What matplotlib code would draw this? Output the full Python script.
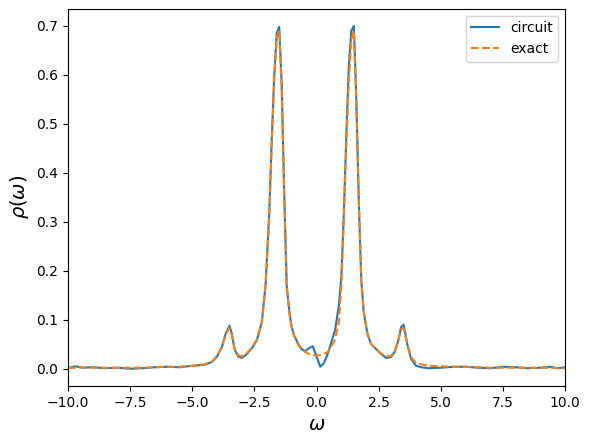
import matplotlib
matplotlib.use("Agg")
import matplotlib.pyplot as plt
import numpy as np

omega = [-10, -9.7, -9.4, -9.0, -8.5, -8.0, -7.5, -7.0, -6.5, -6.0, -5.5, -5.0, -4.5, -4.2, -4.0, -3.8, -3.65, -3.5, -3.4, -3.3, -3.15, -3.0, -2.8, -2.6, -2.4, -2.2, -2.05, -1.9, -1.8, -1.7, -1.6, -1.5, -1.4, -1.3, -1.2, -1.1, -1.0, -0.9, -0.75, -0.6, -0.45, -0.3, -0.15, 0.0, 0.15, 0.3, 0.45, 0.6, 0.75, 0.9, 1.0, 1.1, 1.2, 1.3, 1.4, 1.5, 1.6, 1.7, 1.8, 1.9, 2.05, 2.2, 2.4, 2.6, 2.8, 3.0, 3.15, 3.3, 3.4, 3.5, 3.65, 3.8, 4.0, 4.2, 4.5, 5.0, 5.5, 6.0, 6.5, 7.0, 7.5, 8.0, 8.5, 9.0, 9.4, 9.7, 10]
circuit = [0.001, 0.005, 0.002, 0.003, 0.001, 0.002, 0.0, 0.001, 0.003, 0.004, 0.003, 0.006, 0.008, 0.014, 0.025, 0.045, 0.072, 0.088, 0.07, 0.04, 0.025, 0.022, 0.03, 0.042, 0.058, 0.095, 0.17, 0.32, 0.47, 0.6, 0.685, 0.698, 0.58, 0.36, 0.17, 0.12, 0.085, 0.068, 0.052, 0.04, 0.036, 0.042, 0.046, 0.025, 0.004, 0.012, 0.03, 0.055, 0.08, 0.13, 0.19, 0.32, 0.48, 0.62, 0.69, 0.70, 0.55, 0.34, 0.18, 0.115, 0.07, 0.05, 0.04, 0.03, 0.022, 0.024, 0.035, 0.06, 0.085, 0.09, 0.05, 0.02, 0.006, 0.003, 0.001, 0.002, 0.004, 0.004, 0.002, 0.001, 0.004, 0.003, 0.001, 0.002, 0.004, 0.001, 0.003]
exact = [0.001, 0.002, 0.003, 0.002, 0.002, 0.002, 0.002, 0.002, 0.003, 0.004, 0.004, 0.006, 0.009, 0.015, 0.026, 0.045, 0.07, 0.083, 0.068, 0.042, 0.028, 0.025, 0.032, 0.043, 0.06, 0.095, 0.17, 0.31, 0.46, 0.59, 0.675, 0.69, 0.57, 0.35, 0.17, 0.115, 0.085, 0.066, 0.05, 0.04, 0.034, 0.03, 0.028, 0.027, 0.028, 0.03, 0.034, 0.045, 0.06, 0.095, 0.17, 0.31, 0.46, 0.59, 0.67, 0.69, 0.55, 0.34, 0.18, 0.115, 0.072, 0.05, 0.04, 0.031, 0.025, 0.026, 0.036, 0.06, 0.08, 0.083, 0.05, 0.024, 0.012, 0.009, 0.006, 0.005, 0.004, 0.004, 0.003, 0.002, 0.002, 0.002, 0.002, 0.002, 0.002, 0.001, 0.001]

fig, ax = plt.subplots(figsize=(5.9, 4.36), dpi=100)
ax.plot(omega, circuit, label="circuit")
ax.plot(omega, exact, "--", label="exact")
ax.set_xlim(-10, 10)
ax.set_xlabel(r"$\omega$", fontsize=14)
ax.set_ylabel(r"$\rho(\omega)$", fontsize=14)
ax.legend()
fig.subplots_adjust(left=0.115, right=0.958, top=0.98, bottom=0.115)
fig.savefig("out.png")
